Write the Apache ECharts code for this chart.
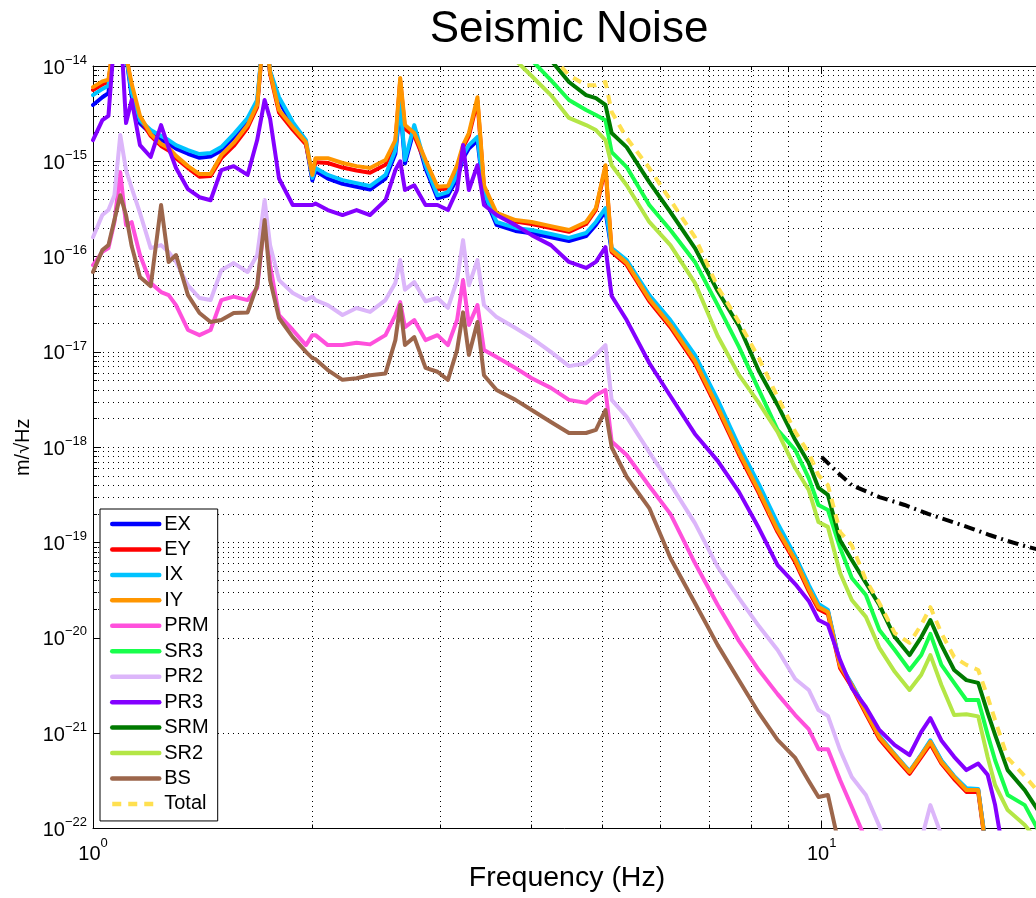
<!DOCTYPE html>
<html>
<head>
<meta charset="utf-8">
<script src="https://cdn.jsdelivr.net/npm/echarts@6/dist/echarts.min.js"></script>
<style>html,body{margin:0;padding:0;background:#fff}#c{width:1036px;height:898px}</style>
</head>
<body>
<div id="c"></div>
<script>
// ---- data (frequency in Hz, displacement in m/sqrt(Hz)) ----
const freq = [1.00,1.03,1.05,1.07,1.09,1.11,1.13,1.16,1.20,1.24,
 1.27,1.30,1.35,1.40,1.45,1.50,1.56,1.63,1.68,1.72,
 1.75,1.80,1.88,1.96,2.00,2.02,2.10,2.20,2.30,2.40,
 2.52,2.60,2.64,2.68,2.76,2.86,2.97,3.07,3.16,3.22,
 3.28,3.37,3.44,3.58,3.80,4.00,4.25,4.50,4.75,4.90,
 5.05,5.15,5.40,5.80,6.20,6.70,7.20,7.70,8.20,8.70,
 9.20,9.60,9.90,10.2,10.6,11.0,11.5,12.0,12.6,13.2,
 13.7,14.1,14.6,15.2,15.8,16.4,16.9,17.3,18.0,19.0,
 20.0];

const valEX = [3.9e-15,4.7e-15,5.2e-15,2e-14,4e-14,1.3e-14,4.8e-15,2.5e-15,1.95e-15,1.68e-15,
 1.53e-15,1.36e-15,1.2e-15,1.09e-15,1.12e-15,1.3e-15,1.78e-15,2.65e-15,4.1e-15,3e-14,
 8.5e-15,4.3e-15,2.4e-15,1.55e-15,6.3e-16,7.9e-16,6.6e-16,5.8e-16,5.4e-16,5.05e-16,
 6.6e-16,1.2e-15,3.8e-15,9.5e-16,2.2e-15,8.4e-16,4.1e-16,4.4e-16,6.6e-16,1.07e-15,
 1.36e-15,1.65e-15,4.4e-16,2.15e-16,1.86e-16,1.76e-16,1.6e-16,1.46e-16,1.64e-16,2.15e-16,
 3.0e-16,1.15e-16,8.8e-17,3.75e-17,2.03e-17,8.7e-18,2.9e-18,9.6e-19,3.8e-19,1.49e-19,
 6.9e-20,3.42e-20,2.18e-20,1.9e-20,5.15e-21,3.22e-21,1.71e-21,9.2e-22,5.9e-22,3.9e-22,
 5.9e-22,8.2e-22,5.1e-22,3.5e-22,2.6e-22,2.55e-22,4.7e-23,2.5e-23,1.3e-23,6e-24,
 3e-24];

const valEY = [5.6e-15,6.4e-15,6.8e-15,2e-14,4e-14,1.3e-14,6.0e-15,2.8e-15,1.85e-15,1.45e-15,
 1.3e-15,1.08e-15,8.5e-16,6.9e-16,7.0e-16,1.08e-15,1.45e-15,2.25e-15,3.7e-15,3e-14,
 8.3e-15,3.25e-15,2.15e-15,1.5e-15,7.0e-16,9.8e-16,9.6e-16,8.6e-16,8.0e-16,7.6e-16,
 9.2e-16,1.55e-15,7.0e-15,2.2e-15,1.85e-15,9.6e-16,5.1e-16,5.2e-16,8.5e-16,1.4e-15,
 1.85e-15,4.3e-15,5.3e-16,2.75e-16,2.33e-16,2.2e-16,2.0e-16,1.82e-16,2.2e-16,3.1e-16,
 8.6e-16,1.12e-16,8.2e-17,3.4e-17,1.82e-17,7.6e-18,2.5e-18,8.4e-19,3.3e-19,1.29e-19,
 6.2e-20,3.1e-20,2.0e-20,1.78e-20,4.8e-21,3.05e-21,1.6e-21,8.7e-22,5.6e-22,3.75e-22,
 5.6e-22,7.7e-22,4.8e-22,3.3e-22,2.42e-22,2.42e-22,4.4e-23,2.4e-23,1.2e-23,6e-24,
 3e-24];

const valIX = [4.95e-15,5.75e-15,6.2e-15,2e-14,4e-14,1.3e-14,5.3e-15,2.7e-15,2.13e-15,1.84e-15,
 1.67e-15,1.48e-15,1.31e-15,1.19e-15,1.22e-15,1.41e-15,1.93e-15,2.85e-15,4.4e-15,3e-14,
 8.9e-15,4.7e-15,2.58e-15,1.67e-15,6.7e-16,8.5e-16,7.2e-16,6.35e-16,5.9e-16,5.5e-16,
 7.2e-16,1.31e-15,4.1e-15,1.03e-15,2.4e-15,9.1e-16,4.4e-16,4.75e-16,7.2e-16,1.16e-15,
 1.48e-15,1.8e-15,4.75e-16,2.31e-16,2.0e-16,1.9e-16,1.73e-16,1.57e-16,1.77e-16,2.31e-16,
 3.23e-16,1.23e-16,9.2e-17,3.95e-17,2.16e-17,9.3e-18,3.14e-18,1.03e-18,4.1e-19,1.6e-19,
 7.2e-20,3.59e-20,2.27e-20,1.96e-20,5.3e-21,3.28e-21,1.75e-21,9.4e-22,6.0e-22,4.0e-22,
 6.0e-22,8.4e-22,5.2e-22,3.55e-22,2.65e-22,2.6e-22,4.8e-23,2.6e-23,1.3e-23,6e-24,
 3e-24];

const valIY = [6.0e-15,6.9e-15,7.2e-15,2e-14,4e-14,1.3e-14,6.5e-15,3.0e-15,1.93e-15,1.52e-15,
 1.38e-15,1.14e-15,8.9e-16,7.35e-16,7.35e-16,1.16e-15,1.56e-15,2.4e-15,3.9e-15,3e-14,
 8.6e-15,3.45e-15,2.29e-15,1.59e-15,7.2e-16,1.08e-15,1.08e-15,9.6e-16,8.9e-16,8.5e-16,
 1.03e-15,1.67e-15,7.5e-15,2.4e-15,1.98e-15,1.03e-15,5.4e-16,5.5e-16,9.1e-16,1.48e-15,
 1.98e-15,4.7e-15,5.6e-16,2.87e-16,2.42e-16,2.31e-16,2.09e-16,1.9e-16,2.31e-16,3.23e-16,
 9.1e-16,1.17e-16,8.6e-17,3.59e-17,1.92e-17,8.05e-18,2.65e-18,8.9e-19,3.48e-19,1.36e-19,
 6.57e-20,3.26e-20,2.11e-20,1.87e-20,5.07e-21,3.2e-21,1.67e-21,9.1e-22,5.9e-22,3.92e-22,
 5.9e-22,8.1e-22,5.0e-22,3.47e-22,2.53e-22,2.53e-22,4.6e-23,2.5e-23,1.3e-23,6e-24,
 3e-24];

const valPRM = [8.15e-17,1.12e-16,1.23e-16,2.3e-16,7.7e-16,2.14e-16,2.3e-16,1.04e-16,5.3e-17,4.25e-17,
 3.95e-17,3.1e-17,1.7e-17,1.5e-17,1.7e-17,3.5e-17,3.8e-17,3.5e-17,4.68e-17,2.42e-16,
 8.15e-17,2.44e-17,1.7e-17,1.18e-17,1.5e-17,1.5e-17,1.18e-17,1.18e-17,1.25e-17,1.2e-17,
 1.5e-17,2.44e-17,3.33e-17,1.82e-17,2.16e-17,1.33e-17,1.5e-17,1.18e-17,2.16e-17,5.67e-17,
 1.92e-17,3.1e-17,1.05e-17,8.85e-18,6.8e-18,5.3e-18,4.2e-18,3.14e-18,2.92e-18,3.54e-18,
 3.99e-18,1.15e-18,8.3e-19,3.92e-19,2.0e-19,6.1e-20,2.21e-20,9.3e-21,4.6e-21,2.57e-21,
 1.55e-21,1.1e-21,6.8e-22,6.8e-22,3.23e-22,1.68e-22,7.6e-23,3e-23,1.5e-23,1e-23,
 8e-24,7e-24,6e-24,5e-24,4e-24,3.5e-24,3e-24,2.8e-24,2.5e-24,2e-24,
 1.8e-24];

const valSR3 = [null,null,null,null,null,null,null,null,null,null,
 null,null,null,null,null,null,null,null,null,null,
 null,null,null,null,null,null,null,null,null,null,
 null,null,null,null,null,null,null,null,null,null,
 null,null,null,null,null,1.15e-14,7.1e-15,4.4e-15,3.45e-15,3.06e-15,
 2.7e-15,1.25e-15,8.7e-16,3.48e-16,1.9e-16,8.8e-17,3.1e-17,1.13e-17,4.0e-18,1.52e-18,
 9.35e-19,4.75e-19,2.48e-19,2.2e-19,8.8e-20,4.25e-20,2.82e-20,1.21e-20,7.45e-21,4.6e-21,
 6.6e-21,1.1e-20,5.2e-21,3.37e-21,2.23e-21,2.23e-21,9.6e-22,5.2e-22,2.25e-22,1.76e-22,
 8.5e-23];

const valPR2 = [1.6e-16,2.73e-16,3.08e-16,4.4e-16,1.89e-15,8.1e-16,5.25e-16,2.87e-16,1.23e-16,1.32e-16,
 1.12e-16,8.8e-17,5.0e-17,3.68e-17,3.5e-17,7.2e-17,8.55e-17,6.9e-17,1.04e-16,3.92e-16,
 1.32e-16,5.67e-17,4.15e-17,3.5e-17,3.8e-17,3.5e-17,3.1e-17,2.44e-17,2.89e-17,2.63e-17,
 3.5e-17,5.3e-17,9.2e-17,4.5e-17,5.4e-17,3.4e-17,3.68e-17,2.9e-17,5.67e-17,1.49e-16,
 5.0e-17,9.2e-17,3.1e-17,2.32e-17,1.78e-17,1.4e-17,1.0e-17,7.1e-18,7.6e-18,9.3e-18,
 1.18e-17,3.14e-18,2.08e-18,8.9e-19,4.1e-19,1.6e-19,5.55e-20,2.62e-20,1.33e-20,7.45e-21,
 3.7e-21,2.84e-21,1.75e-21,1.52e-21,6.65e-22,3.47e-22,2.25e-22,1.06e-22,3.7e-23,2.9e-23,
 7.6e-23,1.76e-22,8.5e-23,1.8e-23,1e-23,8e-24,6e-24,5e-24,4e-24,3e-24,
 2e-24];

const valPR3 = [1.67e-15,2.7e-15,3.0e-15,2e-14,3e-14,2.52e-15,4.4e-15,1.48e-15,1.11e-15,2.4e-15,
 1.38e-15,8.5e-16,5.1e-16,4.2e-16,3.9e-16,8.1e-16,8.9e-16,7.2e-16,1.67e-15,4.4e-15,
 2.8e-15,6.6e-16,3.48e-16,3.48e-16,3.48e-16,3.6e-16,3.08e-16,2.73e-16,3.08e-16,2.73e-16,
 3.9e-16,8.1e-16,1.0e-15,5.0e-16,5.6e-16,3.48e-16,3.48e-16,3.08e-16,5.0e-16,1.48e-15,
 5.0e-16,9.1e-16,3.48e-16,2.73e-16,2.14e-16,1.68e-16,1.32e-16,8.8e-17,7.6e-17,8.8e-17,
 1.26e-16,3.86e-17,2.16e-17,7.65e-18,3.45e-18,1.38e-18,7.2e-19,3.4e-19,1.42e-19,5.8e-20,
 3.67e-20,2.44e-20,1.54e-20,1.37e-20,5.85e-21,2.98e-21,1.88e-21,1.08e-21,7.5e-22,5.9e-22,
 1.03e-21,1.44e-21,8.4e-22,5.65e-22,4.1e-22,4.8e-22,3.65e-22,1.76e-22,3e-23,1e-23,
 5e-24];

const valSRM = [null,null,null,null,null,null,null,null,null,null,
 null,null,null,null,null,null,null,null,null,null,
 null,null,null,null,null,null,null,null,null,null,
 null,null,null,null,null,null,null,null,null,null,
 null,null,null,null,null,null,1.15e-14,6.8e-15,4.95e-15,4.6e-15,
 3.9e-15,1.98e-15,1.41e-15,6.05e-16,2.94e-16,1.23e-16,4.35e-17,1.87e-17,6.3e-18,2.78e-18,
 1.19e-18,6.85e-19,3.74e-19,3.16e-19,1.06e-19,6.57e-20,3.76e-20,2.21e-20,1.02e-20,6.6e-21,
 1.02e-20,1.54e-20,8.4e-21,4.6e-21,3.6e-21,3.37e-21,1.63e-21,9.6e-22,4.1e-22,2.53e-22,
 1.39e-22];

const valSR2 = [null,null,null,null,null,null,null,null,null,null,
 null,null,null,null,null,null,null,null,null,null,
 null,null,null,null,null,null,null,null,null,null,
 null,null,null,null,null,null,null,null,null,null,
 null,null,null,null,1.15e-14,7.85e-15,4.95e-15,2.85e-15,2.4e-15,2.13e-15,
 1.67e-15,9.1e-16,5.6e-16,2.31e-16,1.32e-16,5.3e-17,1.47e-17,5.75e-18,2.92e-18,1.45e-18,
 6.05e-19,3.56e-19,1.64e-19,1.46e-19,4.8e-20,2.5e-20,1.66e-20,7.85e-21,4.4e-21,2.84e-21,
 4.1e-21,6.6e-21,3.2e-21,1.55e-21,1.58e-21,1.5e-21,5.6e-22,2.86e-22,1.56e-22,1.09e-22,
 6.7e-23];

const valBS = [6.9e-17,1.17e-16,1.32e-16,2.42e-16,4.4e-16,2.73e-16,1.29e-16,6.1e-17,4.9e-17,3.48e-16,
 8.8e-17,1.04e-16,3.95e-17,2.56e-17,2.06e-17,2.16e-17,2.56e-17,2.6e-17,5.0e-17,2.42e-16,
 5.67e-17,2.27e-17,1.43e-17,1.0e-17,8.6e-18,8.4e-18,6.45e-18,5.1e-18,5.3e-18,5.7e-18,
 5.95e-18,1.33e-17,3.1e-17,1.18e-17,1.43e-17,6.8e-18,6.2e-18,5.1e-18,1.05e-17,2.6e-17,
 9.3e-18,2.06e-17,5.7e-18,3.99e-18,3.14e-18,2.46e-18,1.84e-18,1.41e-18,1.41e-18,1.52e-18,
 2.46e-18,1.0e-18,4.9e-19,2.3e-19,6.9e-20,2.32e-20,8.4e-21,3.6e-21,1.63e-21,8.5e-22,
 5.5e-22,3.15e-22,2.14e-22,2.25e-22,6e-23,2.9e-23,1.5e-23,1e-23,8e-24,6e-24,
 5e-24,4e-24,3.5e-24,3e-24,2.5e-24,2e-24,1.8e-24,1.6e-24,1.4e-24,1.2e-24,
 1e-24];

const valTotal = [null,null,null,null,null,null,null,null,null,null,
 null,null,null,null,null,null,null,null,null,null,
 null,null,null,null,null,null,null,null,null,null,
 null,null,null,null,null,null,null,null,null,null,
 null,null,null,null,null,null,1.3e-14,8.0e-15,6.3e-15,6.3e-15,
 6.8e-15,3.3e-15,1.76e-15,8.5e-16,3.92e-16,1.6e-16,4.8e-17,2.06e-17,8.6e-18,3.37e-18,
 1.45e-18,8.7e-19,5.1e-19,4.0e-19,1.29e-19,9.35e-20,4.05e-20,2.32e-20,1.12e-20,8.85e-21,
 1.37e-20,2.1e-20,1.12e-20,6.3e-21,5.2e-21,4.6e-21,2.4e-21,1.37e-21,5.5e-22,3.55e-22,
 2.25e-22];

// requirement curve (black dash-dot)
const freqReq = [10,10.5,11,12,13,14,15,16,17,18,19,20];
const valReq = [7.9e-19,5.5e-19,4.0e-19,3.0e-19,2.48e-19,2.0e-19,1.68e-19,1.42e-19,1.2e-19,1.04e-19,9.2e-20,8.3e-20];

const seriesNames = ['EX','EY','IX','IY','PRM','SR3','PR2','PR3','SRM','SR2','BS','Total'];
const seriesColors = ['#0000ff','#ff0000','#00c3ff','#ff9600','#ff50dc','#18ff4c','#dcb6fa','#8400ff','#007a00','#b4e646','#9c664b','#ffe050'];
const seriesValues = [valEX,valEY,valIX,valIY,valPRM,valSR3,valPR2,valPR3,valSRM,valSR2,valBS,valTotal];

const xRange = [1, 20];
const yRange = [1e-22, 1e-14];
const yTickValues = [1e-22,1e-21,1e-20,1e-19,1e-18,1e-17,1e-16,1e-15,1e-14];

// ---- chart ----
const FONT = "'Liberation Sans', Arial, Helvetica, sans-serif";
function expLabel(v) {
  const e = Math.log10(v);
  const r = Math.round(e);
  if (Math.abs(e - r) > 1e-6) return '';
  return '{b|10}{s|' + (r < 0 ? '\u2212' : '') + Math.abs(r) + '}';
}
const richY = {
  b: {fontSize: 20, fontFamily: FONT, color: '#000', lineHeight: 10, padding: [4, 0, 0, 0]},
  s: {fontSize: 13, fontFamily: FONT, color: '#000', lineHeight: 2, padding: [0, 0, 12, 0]}
};
const richX = {
  b: {fontSize: 20, fontFamily: FONT, color: '#000', lineHeight: 16, padding: [10, 0, 0, 0]},
  s: {fontSize: 13, fontFamily: FONT, color: '#000', lineHeight: 12, padding: [0, 0, 12, 0]}
};
const dotted = {color: '#000', width: 1, type: [1, 4]};
const blk = {color: '#000', width: 1};

const series = seriesNames.map((name, k) => ({
  name: name,
  type: 'line',
  data: freq.map((f, i) => [f, seriesValues[k][i]]),
  showSymbol: false,
  symbol: 'none',
  clip: true,
  silent: true,
  lineStyle: Object.assign({color: seriesColors[k], width: 4, join: 'round', cap: 'round'},
                           name === 'Total' ? {type: [9, 7], cap: 'butt'} : {}),
  itemStyle: {color: seriesColors[k]},
  emphasis: {disabled: true}
}));
series.push({
  name: 'Requirement',
  type: 'line',
  data: freqReq.map((f, i) => [f, valReq[i]]),
  showSymbol: false,
  symbol: 'none',
  clip: true,
  silent: true,
  lineStyle: {color: '#000', width: 4, type: [11, 5, 2, 5]},
  itemStyle: {color: '#000'},
  emphasis: {disabled: true}
});

const chart = echarts.init(document.getElementById('c'), null, {renderer: 'canvas'});
chart.setOption({
  animation: false,
  backgroundColor: '#fff',
  title: {
    text: 'Seismic Noise', left: 564, top: 3, textAlign: 'center',
    textStyle: {fontSize: 44, fontWeight: 'normal', color: '#000', fontFamily: FONT}
  },
  legend: {
    data: seriesNames,
    orient: 'vertical', left: 100, top: 509,
    itemWidth: 47, itemHeight: 14, itemGap: 5.45,
    padding: [5, 9, 7, 10],
    borderColor: '#000', borderWidth: 1, backgroundColor: '#fff',
    textStyle: {fontSize: 20, fontFamily: FONT, color: '#000', lineHeight: 20},
    itemStyle: {opacity: 0},
    lineStyle: {width: 4.5},
    selectedMode: false
  },
  grid: {left: 93, right: -5, top: 66, bottom: 69.5, outerBoundsMode: 'none'},
  xAxis: [{
    type: 'log', logBase: 10, min: xRange[0], max: xRange[1], position: 'bottom',
    axisLine: {show: true, onZero: false, lineStyle: blk},
    axisTick: {show: true, inside: true, length: 8, lineStyle: blk},
    minorTick: {show: true, splitNumber: 9, length: 4, lineStyle: blk},
    splitLine: {show: true, lineStyle: dotted},
    minorSplitLine: {show: true, lineStyle: dotted},
    axisLabel: {formatter: expLabel, rich: richX, margin: 13, showMinLabel: true, hideOverlap: false},
    name: 'Frequency (Hz)', nameLocation: 'middle', nameGap: 35, nameMoveOverlap: false,
    nameTextStyle: {fontSize: 28.5, fontFamily: FONT, color: '#000'}
  }, {
    type: 'log', logBase: 10, min: xRange[0], max: xRange[1], position: 'top',
    axisLine: {show: true, onZero: false, lineStyle: blk},
    axisTick: {show: true, inside: true, length: 8, lineStyle: blk},
    minorTick: {show: true, splitNumber: 9, length: 4, lineStyle: blk},
    splitLine: {show: false}, minorSplitLine: {show: false},
    axisLabel: {show: false}
  }],
  yAxis: [{
    type: 'log', logBase: 10, min: yRange[0], max: yRange[1], position: 'left',
    axisLine: {show: true, onZero: false, lineStyle: blk},
    axisTick: {show: true, inside: true, length: 8, lineStyle: blk},
    minorTick: {show: true, splitNumber: 9, length: 4, lineStyle: blk},
    splitLine: {show: true, lineStyle: dotted},
    minorSplitLine: {show: true, lineStyle: dotted},
    axisLabel: {formatter: expLabel, rich: richY, margin: 6, showMinLabel: true, showMaxLabel: true,
                hideOverlap: false, customValues: yTickValues},
    name: 'm/\u221AHz', nameLocation: 'middle', nameGap: 60, nameMoveOverlap: false,
    nameTextStyle: {fontSize: 20, fontFamily: FONT, color: '#000'}
  }],
  series: series
});
</script>
</body>
</html>
